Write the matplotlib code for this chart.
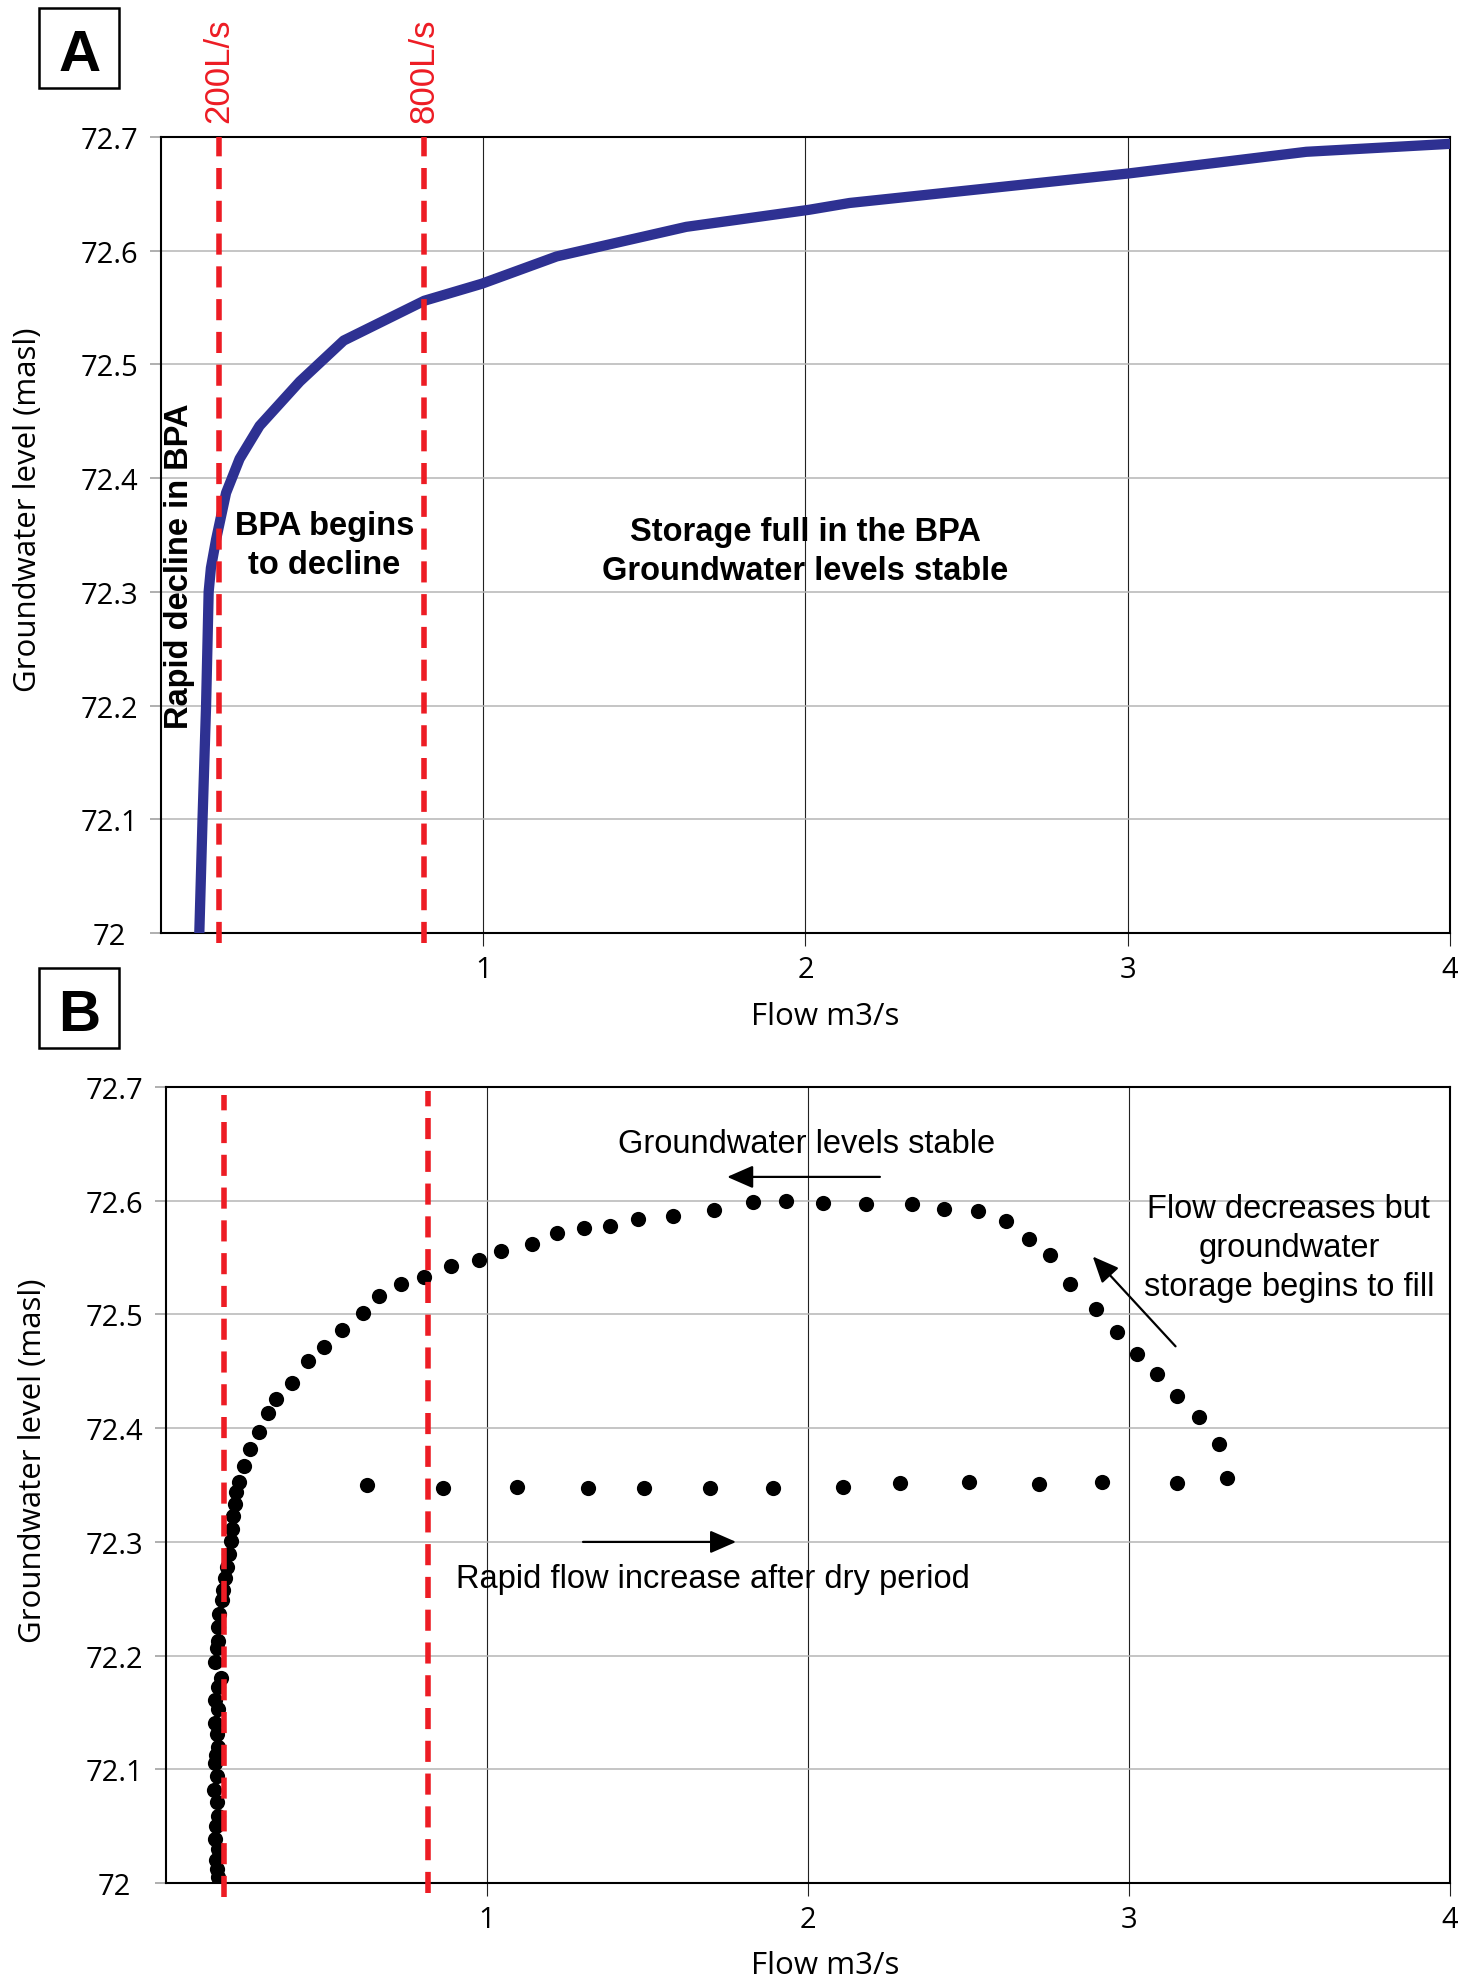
import matplotlib
matplotlib.use('Agg')
import matplotlib.pyplot as plt
from matplotlib.patches import Rectangle

# ---- data ----
# panel A: flow (m3/s) vs groundwater level (masl), fitted curve
flow_a = [0.119, 0.129, 0.140, 0.148, 0.155, 0.171, 0.202, 0.244, 0.306, 0.431,
          0.567, 0.817, 0.996, 1.228, 1.630, 2.011, 2.137, 3.004, 3.554, 4.0]
level_a = [72.0, 72.1, 72.2, 72.3, 72.321, 72.346, 72.387, 72.417, 72.446, 72.485,
           72.521, 72.556, 72.571, 72.595, 72.621, 72.636, 72.642, 72.668, 72.687, 72.694]

# panel B: observed points, low-flow column near 200 L/s
col_flow = [0.214, 0.209, 0.206, 0.201, 0.196, 0.190, 0.183, 0.178, 0.175, 0.164,
            0.161, 0.162, 0.159, 0.154, 0.170, 0.162, 0.154, 0.162, 0.154, 0.159,
            0.162, 0.156, 0.154, 0.159, 0.149, 0.159, 0.162, 0.156, 0.154, 0.162,
            0.156, 0.159, 0.162]
col_level = [72.333, 72.323, 72.311, 72.301, 72.289, 72.278, 72.268, 72.258, 72.249, 72.237,
             72.225, 72.213, 72.207, 72.194, 72.180, 72.172, 72.161, 72.153, 72.141, 72.131,
             72.120, 72.113, 72.106, 72.094, 72.082, 72.071, 72.059, 72.050, 72.039, 72.030,
             72.020, 72.012, 72.005]

# upper limb (rise, stable top, recession)
upper_flow = [0.218, 0.227, 0.242, 0.263, 0.291, 0.318, 0.344, 0.393, 0.441, 0.492,
              0.548, 0.614, 0.664, 0.731, 0.805, 0.889, 0.976, 1.044, 1.140, 1.218,
              1.301, 1.383, 1.471, 1.578, 1.707, 1.830, 1.932, 2.046, 2.182, 2.323,
              2.423, 2.531, 2.616, 2.687, 2.755, 2.815, 2.896, 2.964, 3.024, 3.088,
              3.151, 3.219, 3.279]
upper_level = [72.344, 72.353, 72.367, 72.382, 72.397, 72.413, 72.426, 72.440, 72.459, 72.471,
               72.486, 72.501, 72.516, 72.527, 72.533, 72.543, 72.548, 72.556, 72.562, 72.572,
               72.576, 72.578, 72.584, 72.587, 72.592, 72.599, 72.600, 72.598, 72.597, 72.597,
               72.593, 72.591, 72.582, 72.566, 72.552, 72.527, 72.505, 72.485, 72.465, 72.448,
               72.428, 72.410, 72.386]

# lower row (rapid flow increase after dry period)
lower_flow = [0.626, 0.863, 1.092, 1.314, 1.488, 1.695, 1.892, 2.110, 2.287, 2.500,
              2.721, 2.916, 3.151, 3.304]
lower_level = [72.350, 72.347, 72.348, 72.347, 72.347, 72.347, 72.347, 72.348, 72.352, 72.353,
               72.351, 72.353, 72.352, 72.356]

thresholds = [0.18, 0.815]
threshold_labels = ['200L/s', '800L/s']
xticks = [1, 2, 3, 4]
yticks = [72.0, 72.1, 72.2, 72.3, 72.4, 72.5, 72.6, 72.7]
ytick_labels = ['72', '72.1', '72.2', '72.3', '72.4', '72.5', '72.6', '72.7']

RED = '#ed1c24'
NAVY = '#2e3192'


def _set_rcParams(plt):
    plt.rcParams['font.family'] = ['Open Sans', 'DejaVu Sans']
    plt.rcParams['axes.linewidth'] = 1.5
    plt.rcParams['axes.edgecolor'] = 'black'
    plt.rcParams['xtick.direction'] = 'out'
    plt.rcParams['ytick.direction'] = 'out'


def _style_axes(ax):
    ax.set_xlim(0, 4)
    ax.set_ylim(72.0, 72.7)
    ax.set_xticks(xticks)
    ax.set_xticklabels([str(t) for t in xticks])
    ax.set_yticks(yticks)
    ax.set_yticklabels(ytick_labels)
    for lab in ax.get_yticklabels():
        lab.set_horizontalalignment('center')
    ax.set_axisbelow(True)
    ax.grid(axis='y', color='#b5b5b5', lw=1.1)
    ax.grid(axis='x', color='#222222', lw=0.8)
    ax.tick_params(axis='y', length=8, width=1.1, color='#9a9a9a', pad=29, labelsize=21)
    ax.tick_params(axis='x', length=9, width=0.8, color='#222222', pad=7, labelsize=21)
    ax.set_xlabel('Flow m3/s', fontsize=22.5)
    ax.set_ylabel('Groundwater level (masl)', fontsize=22.5)


def _thresholds(ax, spans):
    tr = ax.get_xaxis_transform()
    for x, (y0, y1) in zip(thresholds, spans):
        ax.plot([x, x], [y0, y1], transform=tr, color=RED, lw=4.0,
                ls=(0, (3.8, 2.1)), clip_on=False, zorder=4)


def _arrow(ax, start, end):
    ax.annotate('', xy=end, xytext=start,
                arrowprops=dict(arrowstyle='-|>,head_length=1.6,head_width=0.7',
                                color='black', lw=1.6, mutation_scale=10,
                                shrinkA=0, shrinkB=0))


def _panel_letter(fig, letter, box, baseline):
    fig.add_artist(Rectangle(box[:2], box[2], box[3], transform=fig.transFigure,
                             fill=False, ec='black', lw=1.8))
    fig.text(box[0] + box[2] / 2, baseline, letter, ha='center', va='baseline',
             fontsize=42, fontweight='bold', family='Liberation Sans')


_set_rcParams(plt)
fig = plt.figure(figsize=(14.58, 19.83), dpi=100)

# ---- panel A ----
ax = fig.add_axes([0.1104, 0.5290, 0.8841, 0.4014])
_style_axes(ax)
ax.xaxis.set_label_coords(0.515, -0.085)
ax.yaxis.set_label_coords(-0.0915, 0.533)
ax.plot(flow_a, level_a, color=NAVY, lw=7.4, solid_joinstyle='round', zorder=3)
_thresholds(ax, [(-0.012, 1.0), (-0.012, 1.0)])
for x, lab in zip(thresholds, threshold_labels):
    ax.text(x, 1.019, lab, transform=ax.get_xaxis_transform(), rotation=90,
            ha='center', va='bottom', color=RED, fontsize=25, family='Liberation Sans')

bold = dict(fontsize=23.5, fontweight='bold', family='Liberation Sans', color='black')
ax.text(0.059, 72.323, 'Rapid decline in BPA', rotation=90, ha='center', va='center', **bold)
ax.text(0.507, 72.341, 'BPA begins\nto decline', ha='center', va='center',
        multialignment='center', linespacing=1.32, **bold)
ax.text(2.0, 72.336, 'Storage full in the BPA\nGroundwater levels stable',
        ha='center', va='center', multialignment='center', linespacing=1.32, **bold)

# ---- panel B ----
ax = fig.add_axes([0.1139, 0.0499, 0.8806, 0.4014])
_style_axes(ax)
ax.xaxis.set_label_coords(0.513, -0.084)
ax.yaxis.set_label_coords(-0.092, 0.532)
for fx, lv in [(col_flow, col_level), (upper_flow, upper_level), (lower_flow, lower_level)]:
    ax.scatter(fx, lv, s=120, c='black', linewidths=0, zorder=3)
_thresholds(ax, [(-0.018, 0.99), (-0.012, 0.995)])

reg = dict(fontsize=23.5, family='Liberation Sans', color='black')
ax.text(1.995, 72.65, 'Groundwater levels stable', ha='center', va='center', **reg)
_arrow(ax, (2.224, 72.621), (1.748, 72.621))
ax.text(3.498, 72.559, 'Flow decreases but\ngroundwater\nstorage begins to fill',
        ha='center', va='center', multialignment='center', linespacing=1.32, **reg)
_arrow(ax, (3.145, 72.472), (2.887, 72.551))
ax.text(1.703, 72.268, 'Rapid flow increase after dry period', ha='center', va='center', **reg)
_arrow(ax, (1.299, 72.300), (1.776, 72.300))

_panel_letter(fig, 'A', (0.027, 0.9551, 0.0549, 0.0402), 0.9643)
_panel_letter(fig, 'B', (0.027, 0.4710, 0.0549, 0.0402), 0.4800)

fig.savefig('out.png', dpi=100)
